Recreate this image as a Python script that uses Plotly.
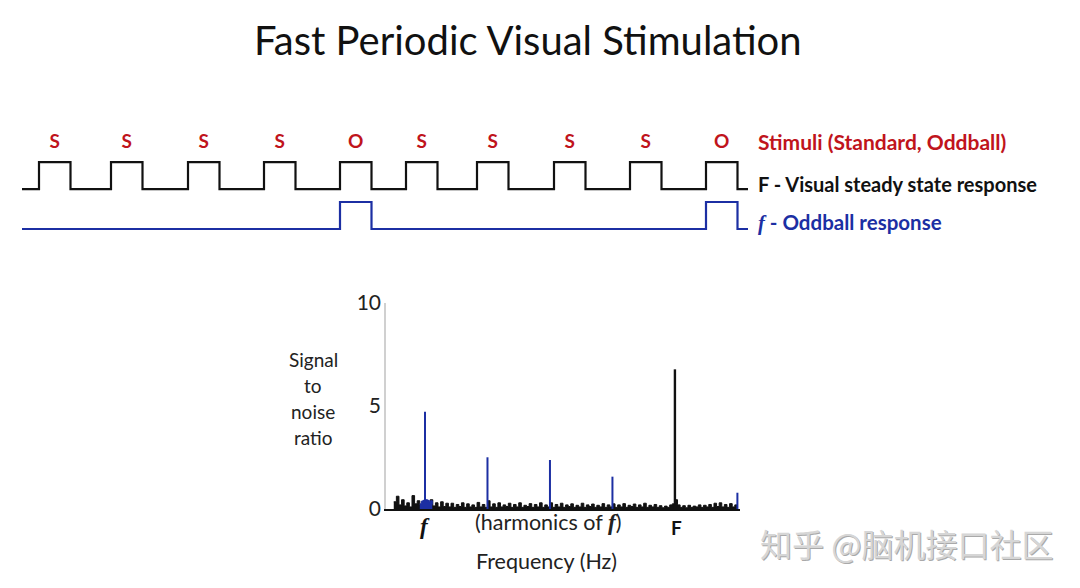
import plotly.graph_objects as go

# ---------------- data ----------------
stimuli = ["S", "S", "S", "S", "O", "S", "S", "S", "S", "O"]
onsets = [39, 111, 188, 264, 340, 406, 477, 554, 630, 706]   # time units
pulse_width = 31.5
t_start, t_end = 22, 748

harm_freqs = [1.2, 2.4, 3.6, 4.8, 7.2]          # oddball f and harmonics (Hz)
harm_snr = [4.72, 2.51, 2.38, 1.57, 0.79]
base_freq = [6.0]                                # F
base_snr = [6.78]

odd_blob_freqs = [1.1, 1.13, 1.16, 1.19, 1.22, 1.25, 1.28, 1.31, 1.34]
odd_blob_snr = [0.25, 0.38, 0.42, 0.40, 0.45, 0.42, 0.38, 0.40, 0.22]

noise_start, noise_step = 0.6, 0.05
noise_snr = [
    0.35, 0.62, 0.20, 0.45, 0.15, 0.30, 0.10, 0.65, 0.25, 0.40, 0.20,
    0.35, 0.40, 0.30,
    0.45, 0.15, 0.30, 0.10, 0.35, 0.12, 0.28,
    0.10, 0.28, 0.08, 0.22, 0.12, 0.30, 0.08, 0.25, 0.10, 0.20, 0.08, 0.32, 0.10, 0.22, 0.08,
    0.40,
    0.10, 0.25, 0.08, 0.30, 0.10, 0.20, 0.12, 0.28, 0.08, 0.22, 0.10, 0.30, 0.08, 0.18, 0.12,
    0.26, 0.08, 0.22, 0.10, 0.30, 0.08, 0.20, 0.10,
    0.30,
    0.08, 0.22, 0.10, 0.28, 0.08, 0.20, 0.12, 0.25, 0.08, 0.18, 0.10, 0.28, 0.08, 0.20, 0.12,
    0.24, 0.08, 0.18, 0.10, 0.26, 0.08, 0.20, 0.10,
    0.25,
    0.08, 0.20, 0.10, 0.26, 0.08, 0.18, 0.12, 0.24, 0.08, 0.20, 0.10, 0.28, 0.08, 0.18, 0.10,
    0.22, 0.08, 0.16, 0.06, 0.14, 0.08, 0.20, 0.25,
    0.45,
    0.20, 0.08, 0.16, 0.06, 0.18, 0.08, 0.14, 0.10, 0.20, 0.08, 0.18, 0.10, 0.22, 0.08, 0.28,
    0.12, 0.30, 0.10, 0.22, 0.08, 0.26, 0.10, 0.20, 0.12,
]

y_ticks = [0, 5, 10]

# ---------------- styling / layout constants ----------------
W, H = 1080, 588
RED = "#c0141c"
BLUE = "#1c2fa3"
BLACK = "#111111"
FONT = "Lato"
black_offset = 1.48      # vertical offset of F trace above f trace (units)
label_level = 3.19       # level of S/O labels

def px(x, y):
    return x / W, 1 - y / H

fig = go.Figure()

# ---------- square waves ----------
def square_wave(times, active):
    xs, ys = [t_start], [0]
    for t, a in zip(times, active):
        if a:
            xs += [t, t, t + pulse_width, t + pulse_width]
            ys += [0, 1, 1, 0]
    xs.append(t_end)
    ys.append(0)
    return xs, ys

bx, by = square_wave(onsets, [True] * len(onsets))
fx, fy = square_wave(onsets, [s == "O" for s in stimuli])

fig.add_trace(go.Scatter(x=bx, y=[v + black_offset for v in by], mode="lines",
                         line=dict(color=BLACK, width=2.2), xaxis="x", yaxis="y",
                         hoverinfo="skip", showlegend=False))
fig.add_trace(go.Scatter(x=fx, y=fy, mode="lines",
                         line=dict(color=BLUE, width=2.2), xaxis="x", yaxis="y",
                         hoverinfo="skip", showlegend=False))
fig.add_trace(go.Scatter(x=[t + pulse_width / 2 for t in onsets],
                         y=[label_level] * len(onsets), mode="text",
                         text=[f"<b>{s}</b>" for s in stimuli],
                         textfont=dict(family=FONT, size=19, color=RED),
                         xaxis="x", yaxis="y", hoverinfo="skip", showlegend=False))

# ---------- spectrum ----------
noise_f = [noise_start + i * noise_step for i in range(len(noise_snr))]
fig.add_trace(go.Scatter(x=noise_f, y=noise_snr, mode="lines", fill="tozeroy",
                         fillcolor=BLACK, line=dict(color=BLACK, width=1, shape="hv"),
                         xaxis="x2", yaxis="y2", hoverinfo="skip", showlegend=False))
fig.add_trace(go.Scatter(x=odd_blob_freqs, y=odd_blob_snr, mode="lines", fill="tozeroy",
                         fillcolor=BLUE, line=dict(color=BLUE, width=1, shape="hv"),
                         xaxis="x2", yaxis="y2", hoverinfo="skip", showlegend=False))

def stems(fs, vs):
    xs, ys = [], []
    for f, v in zip(fs, vs):
        xs += [f, f, None]
        ys += [0, v, None]
    return xs, ys

sx, sy = stems(harm_freqs, harm_snr)
fig.add_trace(go.Scatter(x=sx, y=sy, mode="lines", line=dict(color=BLUE, width=2),
                         xaxis="x2", yaxis="y2", hoverinfo="skip", showlegend=False))
sx, sy = stems(base_freq, base_snr)
fig.add_trace(go.Scatter(x=sx, y=sy, mode="lines", line=dict(color=BLACK, width=2.4),
                         xaxis="x2", yaxis="y2", hoverinfo="skip", showlegend=False))

# ---------- annotations ----------
ann = []
def text(x, y, s, size, color=BLACK, xanchor="center", family=FONT):
    ax, ay = px(x, y)
    ann.append(dict(x=ax, y=ay, xref="paper", yref="paper", text=s, showarrow=False,
                    xanchor=xanchor, yanchor="middle",
                    font=dict(family=family, size=size, color=color)))

SERIF_F = '<span style="font-family:Liberation Serif"><b><i>f</i></b></span>'

text(528, 40, "Fast Periodic Visual Stimulation", 40, "#111111")
text(756, 141, "<b>Stimuli (Standard, Oddball)</b>", 21, RED, "left")
text(756, 184, "<b>F - Visual steady state response</b>", 20, BLACK, "left")
text(756, 223, SERIF_F + "<b> - Oddball response</b>", 20.5, BLUE, "left")

for i, w in enumerate(["Signal", "to", "noise", "ratio"]):
    text(313, 359 + i * 26.3, w, 19, "#222222")

text(546, 561, "Frequency (Hz)", 21.5, "#222222")
text(425, 526, '<span style="font-family:Liberation Serif;font-size:23px"><b><i>f</i></b></span>', 23)
text(548, 522, '(harmonics of <span style="font-family:Liberation Serif;font-size:23px"><b><i>f</i></b></span>)',
     21.5, "#222222")
text(676, 527, "<b>F</b>", 19)

# watermark with a subtle shadow
text(907, 544, "知乎 @脑机接口社区", 32, "#a9a9a9", family="Noto Sans CJK SC")
text(906, 543, "知乎 @脑机接口社区", 32, "#d6d6d6", family="Noto Sans CJK SC")

x0, _ = px(386, 0)
x1, _ = px(740, 0)
_, y0 = px(0, 509)
_, y1 = px(0, 303)

fig.update_layout(
    width=W, height=H, margin=dict(l=0, r=0, t=0, b=0, pad=0, autoexpand=False),
    paper_bgcolor="white", plot_bgcolor="rgba(0,0,0,0)",
    font=dict(family=FONT),
    xaxis=dict(domain=[0, 1], range=[0, W], visible=False, fixedrange=True, automargin=False),
    yaxis=dict(domain=[0, 1], range=[(229 - H) / 27, 229 / 27], visible=False, fixedrange=True,
               automargin=False),
    xaxis2=dict(domain=[x0, x1], range=[0.451, 7.25], anchor="y2", showgrid=False,
                zeroline=False, showline=True, linecolor=BLACK, linewidth=2,
                showticklabels=False, ticks="", automargin=False),
    yaxis2=dict(domain=[y0, y1], range=[0, 10], anchor="x2", showgrid=False,
                zeroline=False, showline=True, linecolor="#d0d0d0", linewidth=1.5,
                tickvals=y_ticks, ticks="", ticklabelstandoff=-1, automargin=False,
                tickfont=dict(family=FONT, size=21, color="#222222")),
    annotations=ann,
    showlegend=False,
)

fig.write_html("out.html")
